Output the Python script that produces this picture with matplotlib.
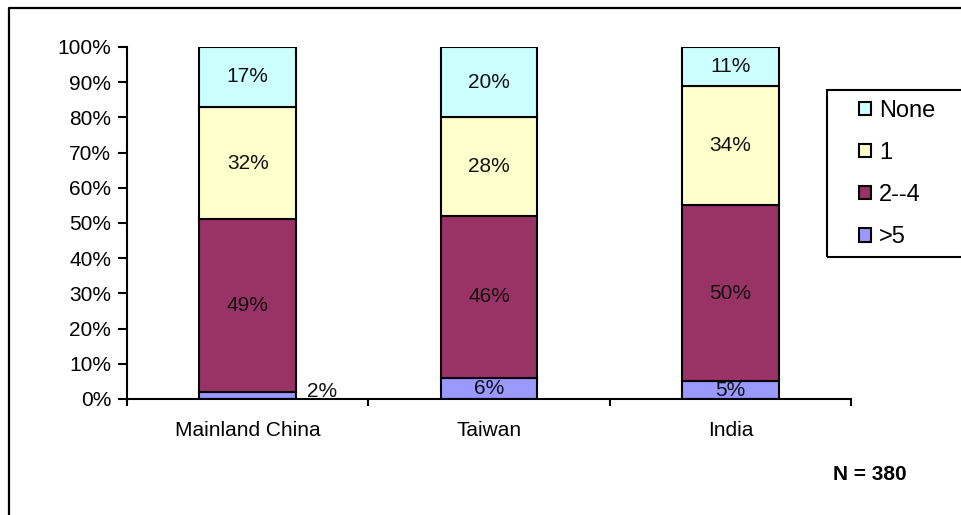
import matplotlib
matplotlib.use('Agg')
import matplotlib.pyplot as plt
from matplotlib.lines import Line2D
from matplotlib.patches import Rectangle
import numpy as np

plt.rcParams['font.family'] = ['Liberation Sans', 'DejaVu Sans']

regions = ['Mainland China', 'Taiwan', 'India']
series = ['>5', '2--4', '1', 'None']
over_five = [2, 6, 5]
two_to_four = [49, 46, 50]
one = [32, 28, 34]
none = [17, 20, 11]
colors = ['#9999FF', '#993366', '#FFFFCC', '#CCFFFF']

W, H = 962, 515
FS = 15
fig = plt.figure(figsize=(W / 100, H / 100), dpi=100)
ax = fig.add_axes([127 / W, 1 - 399 / H, (851 - 127) / W, (399 - 47) / H])

x = np.arange(len(regions))
width = 0.4
bottom = np.zeros(len(regions))
bars = []
for name, vals, col in zip(series, [over_five, two_to_four, one, none], colors):
    vals = np.array(vals, dtype=float)
    b = ax.bar(x, vals, width, bottom=bottom, color=col, edgecolor='black',
               linewidth=1.5, label=name, zorder=2)
    bars.append(b)
    for xi, v, b0 in zip(x, vals, bottom):
        if v < 3:
            # too thin to hold the label, put it beside the bar
            ax.annotate(f'{v:.0f}%', xy=(xi + width / 2, b0 + v / 2),
                        xytext=(19, 3), textcoords='offset points',
                        ha='center', va='center', fontsize=FS, color='#111111')
        else:
            ax.text(xi, b0 + v / 2, f'{v:.0f}%', ha='center', va='center',
                    fontsize=FS, color='#111111', zorder=3)
    bottom += vals

ax.set_xlim(-0.5, 2.5)
ax.set_ylim(0, 100)
ax.set_yticks(np.arange(0, 101, 10))
ax.set_yticklabels([f'{v}%' for v in range(0, 101, 10)], fontsize=FS)
ax.tick_params(axis='y', direction='out', length=6.5, width=1.5, pad=5)

ax.set_xticks([-0.5, 0.5, 1.5, 2.5])
ax.set_xticklabels([])
ax.set_xticks(x, minor=True)
ax.set_xticklabels(regions, minor=True, fontsize=FS)
ax.tick_params(axis='x', which='major', direction='out', length=5, width=1.5)
ax.tick_params(axis='x', which='minor', length=0, pad=16)

for s in ['top', 'right']:
    ax.spines[s].set_visible(False)
for s in ['left', 'bottom']:
    ax.spines[s].set_linewidth(1.5)

# legend box runs off the right edge, so the frame is drawn separately
leg = fig.legend(bars[::-1], series[::-1], loc='upper left',
                 bbox_to_anchor=(859 / W, 1 - 100 / H), borderaxespad=0,
                 borderpad=0, fontsize=17, handlelength=0.5, handleheight=0.5,
                 handletextpad=0.35, labelspacing=0.85, frameon=False)
for h in leg.legend_handles:
    h.set_linewidth(1.5)
fig.add_artist(Rectangle((827 / W, 1 - 257 / H), 160 / W, 167 / H,
                         transform=fig.transFigure, fill=False,
                         edgecolor='black', linewidth=1.5))

fig.text(870 / W, 1 - 475 / H, 'N = 380', ha='center', va='center',
         fontsize=15, fontweight='bold')

# outer frame, open on the right and bottom
fig.add_artist(Line2D([8.5 / W, 8.5 / W, 1.0], [0.0, 1 - 7.5 / H, 1 - 7.5 / H],
                      transform=fig.transFigure, color='black', linewidth=1.6))

fig.savefig('out.png', dpi=100)
